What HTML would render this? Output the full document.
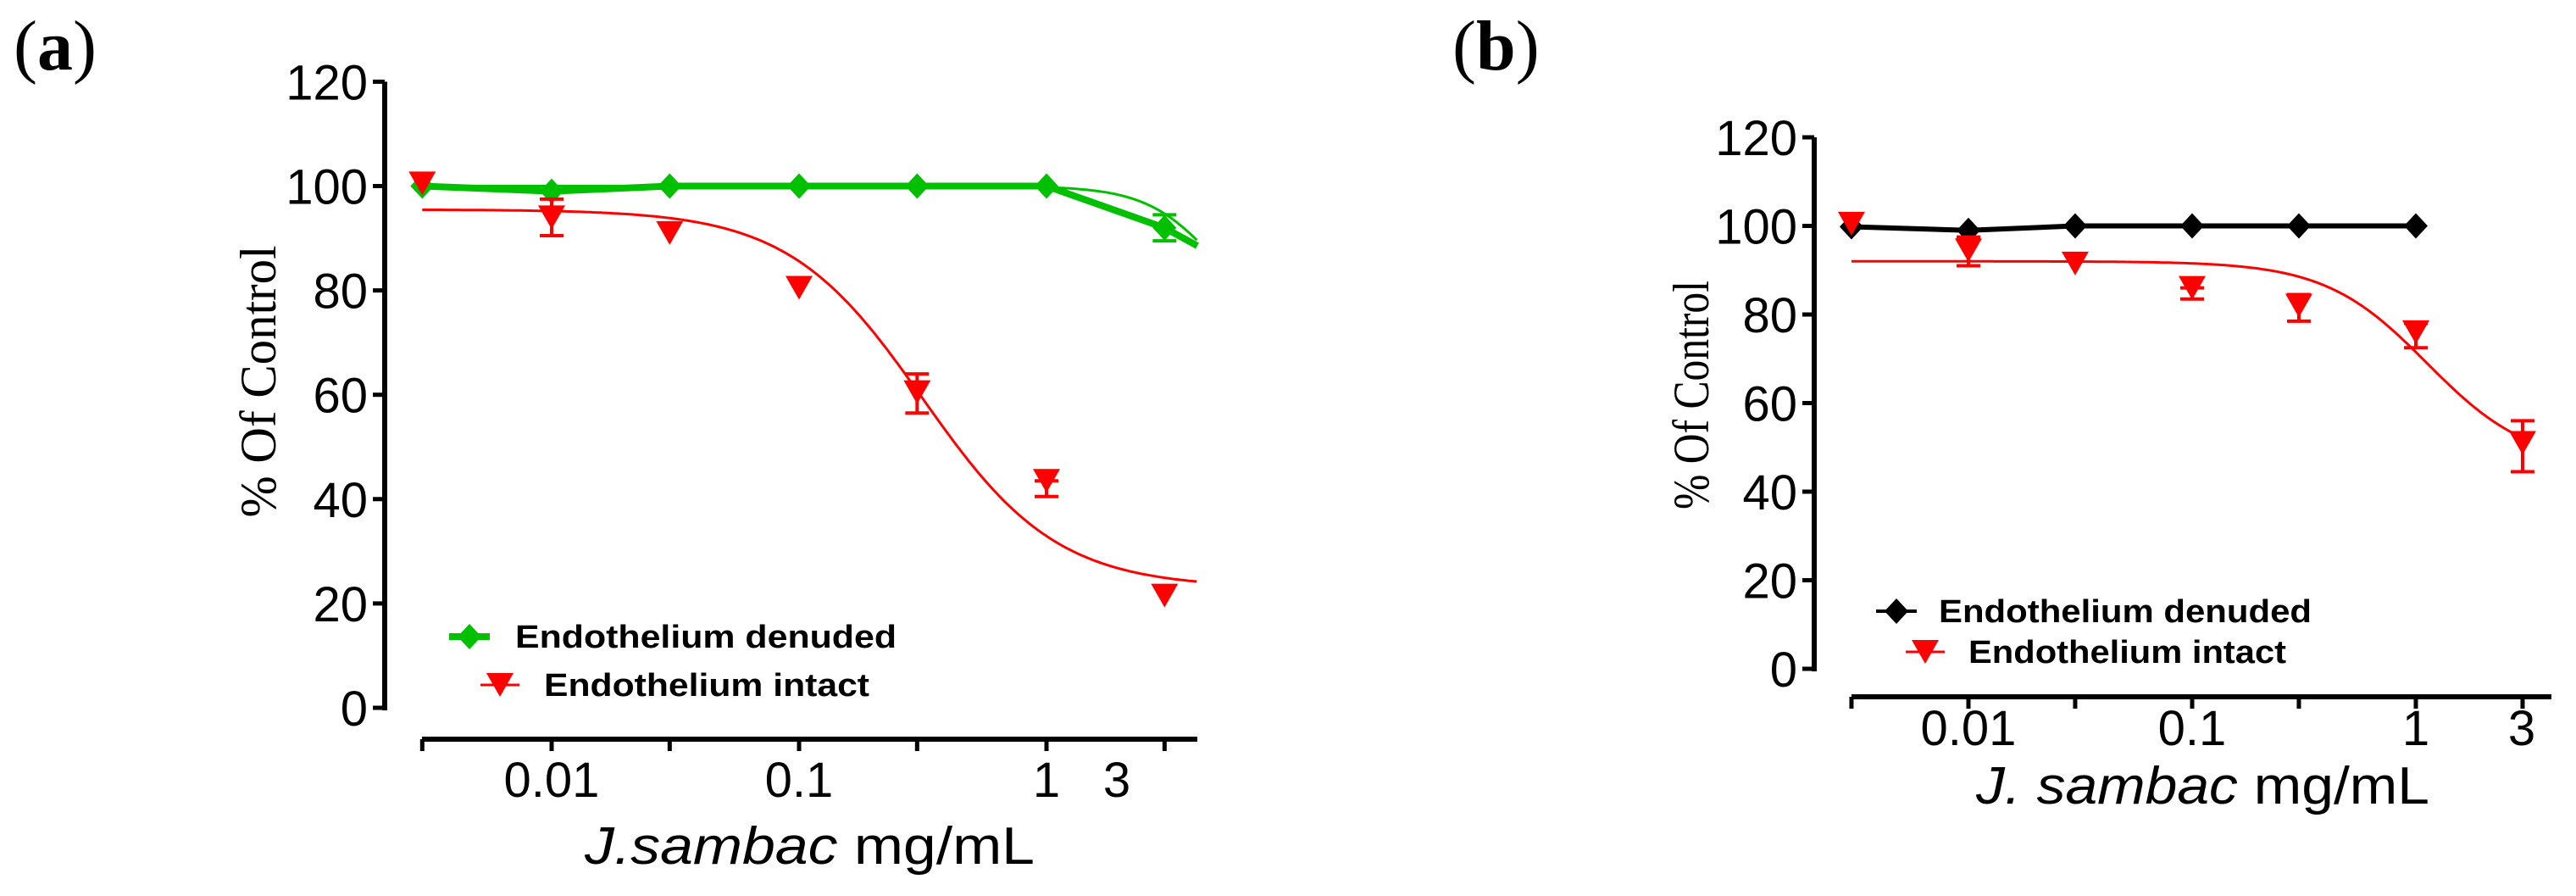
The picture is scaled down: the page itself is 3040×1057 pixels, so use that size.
<!DOCTYPE html>
<html><head><meta charset="utf-8"><style>
html,body{margin:0;padding:0;background:#fff;}
svg{display:block;}
text{font-family:"Liberation Sans",Arial,sans-serif;}
.serif{font-family:"Liberation Serif","Times New Roman",serif;}
</style></head><body>
<svg id="chart" width="3040" height="1057" viewBox="0 0 3040 1057" xmlns="http://www.w3.org/2000/svg">
<rect width="3040" height="1057" fill="#fff"/>
<g id="pa"></g>
<g id="pb"></g>
</svg>
<script>
const NS="http://www.w3.org/2000/svg";
// ---- data ----
const concentrations=[0.003,0.01,0.03,0.1,0.3,1,3];
const yTicks=[0,20,40,60,80,100,120];
const aDenuded=[100,99,100,100,100,100,92];
const aDenudedErr=[0,0,0,0,0,0,2.5];
const aIntact=[100.5,94,91,80.5,60.5,43.5,21.5];
const aIntactErrUp=[0,3.5,0,0,3.5,0,0];
const aIntactErrLo=[0,3.5,0,0,4,3,0];
const aIntactFit=[95.5,23,-0.5,1.6];   // top,bottom,logIC50,hill
const aDenudedFit=[100,70,0.7,3];
const bDenuded=[99.8,99,100,100,100,100];
const bIntact=[100.5,94.5,91.5,86,82,76,51];
const bIntactErrUp=[0,3,0,0,2.5,2,5];
const bIntactErrLo=[0,3.5,0,2.5,3.5,3.5,6.5];
const bIntactFit=[92,46,0.05,1.9];
const aXTickLabels=["0.01","0.1","1","3"];
const bXTickLabels=["0.01","0.1","1","3"];

function el(p,tag,attrs,txt){const e=document.createElementNS(NS,tag);for(const k in attrs)e.setAttribute(k,attrs[k]);if(txt!==undefined)e.textContent=txt;p.appendChild(e);return e;}
function fitVal(f,L){return f[1]+(f[0]-f[1])/(1+Math.pow(10,f[3]*(L-f[2])));}

function panel(g,cfg){
  const X=c=>cfg.x01+cfg.dec*(Math.log10(c)+2);
  const XL=L=>cfg.x01+cfg.dec*(L+2);
  const Y=v=>cfg.y0-v*cfg.ppu;
  let e=el(g,'line',{x1:cfg.yax,y1:Y(120),x2:cfg.yax,y2:Y(0)+3,stroke:'#000','stroke-width':6});
  
  yTicks.forEach(t=>{
    let l=el(g,'line',{x1:cfg.yax-14,y1:Y(t),x2:cfg.yax,y2:Y(t),stroke:'#000','stroke-width':5});
    
    let tx=el(g,'text',{x:cfg.yax-20,y:Y(t)+21,'font-size':58,'text-anchor':'end'},String(t));
    
  });
  e=el(g,'line',{x1:cfg.xs,y1:cfg.xay,x2:cfg.xe,y2:cfg.xay,stroke:'#000','stroke-width':6});
  
  concentrations.forEach(c=>{
    let l=el(g,'line',{x1:X(c),y1:cfg.xay,x2:X(c),y2:cfg.xay+14,stroke:'#000','stroke-width':5});
    
  });
  cfg.xlab.forEach((s,i)=>{
    const px=[X(0.01),X(0.1),X(1),cfg.x3lab][i];
    let tx=el(g,'text',{x:px,y:cfg.xlaby,'font-size':58,'text-anchor':'middle'},s);
    
  });
  let tt=el(g,'text',{x:cfg.xtx,y:cfg.xty,'font-size':62,textLength:cfg.xtw,lengthAdjust:'spacingAndGlyphs'});
  
  el(tt,'tspan',{'font-style':'italic'},cfg.sp);el(tt,'tspan',{},' mg/mL');
  let yt=el(g,'text',{x:0,y:0,'font-size':60,'text-anchor':'middle',class:'serif',textLength:cfg.ytl,lengthAdjust:'spacingAndGlyphs',transform:`translate(${cfg.ytx},${cfg.yty}) rotate(-90)`},'% Of Control');
  
  let pl=el(g,'text',{x:cfg.plx,y:cfg.ply,'font-size':84,class:'serif'});
  
  el(pl,'tspan',{},'(');el(pl,'tspan',{'font-weight':'bold'},cfg.pl);el(pl,'tspan',{},')');
  let pts=[];for(let L=Math.log10(0.003);L<=cfg.fitEnd;L+=0.01)pts.push(XL(L).toFixed(1)+','+Y(fitVal(cfg.rfit,L)).toFixed(1));
  let rf=el(g,'polyline',{points:pts.join(' '),fill:'none',stroke:'#f00','stroke-width':3});
  
  if(cfg.dfit){
    pts=[];for(let L=Math.log10(0.003);L<=cfg.fitEnd;L+=0.01)pts.push(XL(L).toFixed(1)+','+Y(fitVal(cfg.dfit,L)).toFixed(1));
    let df=el(g,'polyline',{points:pts.join(' '),fill:'none',stroke:cfg.dcol,'stroke-width':3});
    
  }
  pts=cfg.den.map((v,i)=>X(concentrations[i])+','+Y(v));
  if(cfg.dfit){pts.push(XL(cfg.fitEnd)+','+Y(fitVal(cfg.dfit,cfg.fitEnd)-1));}
  let dl=el(g,'polyline',{points:pts.join(' '),fill:'none',stroke:cfg.dcol,'stroke-width':cfg.dw});
  
  const err=(x,v,up,lo,col,nm)=>{
    if(!up&&!lo)return;
    let p=el(g,'path',{d:`M${x},${Y(v+up)}V${Y(v-lo)}M${x-14},${Y(v+up)}h28M${x-14},${Y(v-lo)}h28`,stroke:col,'stroke-width':4,fill:'none'});
    
  };
  cfg.den.forEach((v,i)=>{
    const x=X(concentrations[i]),y=Y(v);
    if(cfg.derr)err(x,v,cfg.derr[i],cfg.derr[i],cfg.dcol,'denuded-error-bar');
    let d=el(g,'path',{d:`M${x},${y-15}L${x+14},${y}L${x},${y+15}L${x-14},${y}Z`,fill:cfg.dcol});
    
  });
  cfg.int.forEach((v,i)=>{
    const x=X(concentrations[i]),y=Y(v);
    err(x,v,cfg.iup[i],cfg.ilo[i],'#f00','intact-error-bar');
    let t=el(g,'path',{d:`M${x-16},${y-14}L${x+16},${y-14}L${x},${y+14}Z`,fill:'#f00'});
    
  });
  const L1=cfg.leg1, L2=cfg.leg2;
  let lg=el(g,'g',{});
  el(lg,'line',{x1:L1[0]-24,y1:L1[1],x2:L1[0]+24,y2:L1[1],stroke:cfg.dcol,'stroke-width':cfg.dw>6?8:4});
  el(lg,'path',{d:`M${L1[0]},${L1[1]-15}L${L1[0]+14},${L1[1]}L${L1[0]},${L1[1]+15}L${L1[0]-14},${L1[1]}Z`,fill:cfg.dcol});
  el(lg,'text',{x:L1[2],y:L1[1]+13,'font-size':38,'font-weight':'bold',textLength:L1[3],lengthAdjust:'spacingAndGlyphs'},'Endothelium denuded');
  lg=el(g,'g',{});
  el(lg,'line',{x1:L2[0]-23,y1:L2[1],x2:L2[0]+23,y2:L2[1],stroke:'#f00','stroke-width':3});
  el(lg,'path',{d:`M${L2[0]-16},${L2[1]-14}L${L2[0]+16},${L2[1]-14}L${L2[0]},${L2[1]+14}Z`,fill:'#f00'});
  el(lg,'text',{x:L2[2],y:L2[1]+13,'font-size':38,'font-weight':'bold',textLength:L2[3],lengthAdjust:'spacingAndGlyphs'},'Endothelium intact');
}
panel(document.getElementById('pa'),{x01:651,dec:292,y0:835,ppu:6.155,yax:454,xs:498,xe:1413,xay:872,
  xlab:aXTickLabels,x3lab:1318,xlaby:940,xtx:690,xty:1019,xtw:531,sp:'J.sambac',ytx:325,yty:450,ytl:321,
  plx:16,ply:82,pl:'a',rfit:aIntactFit,dfit:aDenudedFit,fitEnd:(1413-651)/292-2,dcol:'#00c000',dw:8,
  den:aDenuded,derr:aDenudedErr,int:aIntact,iup:aIntactErrUp,ilo:aIntactErrLo,
  leg1:[554,751,608,450],leg2:[590,808,642,384]});
panel(document.getElementById('pb'),{x01:2323,dec:264,y0:789,ppu:5.225,yax:2141,xs:2185,xe:3011,xay:822,
  xlab:bXTickLabels,x3lab:2976,xlaby:879,xtx:2332,xty:948,xtw:535,sp:'J. sambac',ytx:2016,yty:466,ytl:270,
  plx:1714,ply:82,pl:'b',rfit:bIntactFit,dfit:null,fitEnd:Math.log10(3),dcol:'#000',dw:6,
  den:bDenuded,derr:null,int:bIntact,iup:bIntactErrUp,ilo:bIntactErrLo,
  leg1:[2238,721,2288,440],leg2:[2272,769,2323,375]});
</script>
</body></html>
